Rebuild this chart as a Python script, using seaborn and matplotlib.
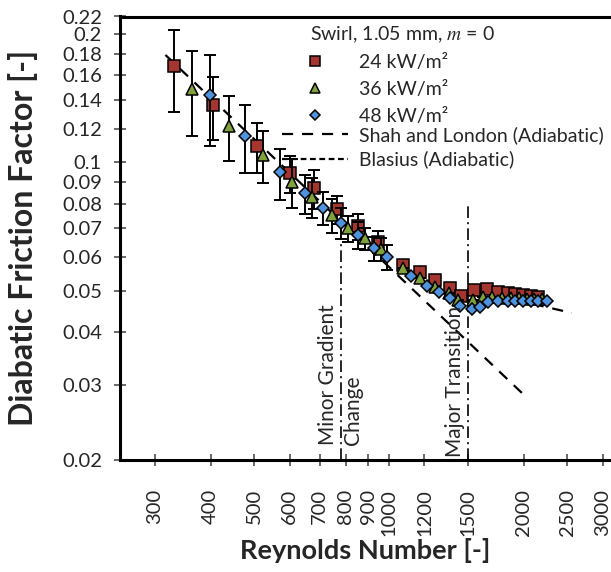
import numpy as np
import pandas as pd
import seaborn as sns
import matplotlib.pyplot as plt
from matplotlib.lines import Line2D

# values
re_24 = [332, 404, 508, 600, 679, 765, 851, 943, 1074, 1174, 1268, 1365, 1449,
         1549, 1659, 1755, 1839, 1912, 1990, 2073, 2155]
f_24 = [0.168, 0.136, 0.109, 0.0942, 0.0869, 0.0775, 0.0708, 0.0651, 0.0574,
        0.0553, 0.0529, 0.0506, 0.0485, 0.0501, 0.0503, 0.0497, 0.0493, 0.0490,
        0.0488, 0.0486, 0.0484]
err_24 = [0.037, 0.023, 0.0145, 0.0095, 0.009, 0.006, 0.005, 0.004, 0, 0, 0, 0, 0,
          0, 0, 0, 0, 0, 0, 0, 0]

re_36 = [364, 440, 524, 608, 672, 746, 812, 885, 959, 1074, 1174, 1268, 1358,
         1429, 1543, 1620, 1700, 1790, 1870, 1950, 2030, 2110, 2190]
f_36 = [0.149, 0.122, 0.104, 0.090, 0.083, 0.0752, 0.070, 0.0663, 0.0625, 0.0565,
        0.0534, 0.051, 0.0494, 0.0475, 0.0475, 0.0484, 0.0482, 0.0481, 0.0480,
        0.0479, 0.0478, 0.0478, 0.0477]
err_36 = [0.034, 0.0215, 0.0145, 0.012, 0.009, 0.007, 0.005, 0.004, 0.004, 0, 0,
          0, 0, 0, 0, 0, 0, 0, 0, 0, 0, 0, 0]

re_48 = [399, 476, 572, 650, 711, 782, 851, 924, 992, 1119, 1215, 1290, 1365,
         1442, 1530, 1598, 1667, 1755, 1839, 1912, 1990, 2073, 2155, 2250]
f_48 = [0.144, 0.1155, 0.0947, 0.0846, 0.0782, 0.0721, 0.0675, 0.0628, 0.0598,
        0.0541, 0.0512, 0.0497, 0.0479, 0.046, 0.0452, 0.0458, 0.0471, 0.0472,
        0.0472, 0.0472, 0.0472, 0.0473, 0.0473, 0.0473]
err_48 = [0.035, 0.021, 0.013, 0.009, 0.007, 0.006, 0.005, 0.004, 0.004, 0, 0, 0,
          0, 0, 0, 0, 0, 0, 0, 0, 0, 0, 0, 0]

shah_re = [317, 1990]
shah_f = [0.1787, 0.0286]
blasius_re = [1550, 2560]
blasius_f = [0.0500, 0.0443]

minor_re = 780
minor_top = 0.0685
major_re = 1500
major_top = 0.0802

x_ticks = [300, 400, 500, 600, 700, 800, 900, 1000, 1200, 1500, 2000, 2500, 3000]
y_ticks = [0.02, 0.03, 0.04, 0.05, 0.06, 0.07, 0.08, 0.09, 0.1, 0.12, 0.14,
           0.16, 0.18, 0.2, 0.22]

labels = ["24 kW/m²", "36 kW/m²", "48 kW/m²"]
colors = {"24 kW/m²": "#A5362F", "36 kW/m²": "#80A23A", "48 kW/m²": "#4F93DE"}
markers = {"24 kW/m²": "s", "36 kW/m²": "^", "48 kW/m²": "D"}
sizes = {"24 kW/m²": 8.8, "36 kW/m²": 9.3, "48 kW/m²": 6.4}

df = pd.concat([
    pd.DataFrame({"Re": re_24, "f": f_24, "err": err_24, "q": labels[0]}),
    pd.DataFrame({"Re": re_36, "f": f_36, "err": err_36, "q": labels[1]}),
    pd.DataFrame({"Re": re_48, "f": f_48, "err": err_48, "q": labels[2]}),
], ignore_index=True)

sns.set_style("ticks")
plt.rcParams["font.family"] = ["Lato", "DejaVu Sans"]
plt.rcParams["mathtext.fontset"] = "stix"

fig = plt.figure(figsize=(6.11, 5.72), dpi=100)
ax = fig.add_axes([120 / 611, 1 - 460 / 572, 491 / 611, 443.5 / 572])
ax.set_xscale("log")
ax.set_yscale("log")

# correlations
ax.plot(shah_re, shah_f, color="black", lw=1.6, ls=(0, (5, 4)), zorder=1)
ax.plot(blasius_re, blasius_f, color="black", lw=1.6, ls=(0, (5, 4)), zorder=1)

# transition markers
dashdot = (0, (7, 2.5, 1.2, 2.5))
ax.plot([minor_re, minor_re], [0.02, minor_top], color="black", lw=1.2, ls=dashdot, zorder=1)
ax.plot([major_re, major_re], [0.02, major_top], color="black", lw=1.2, ls=dashdot, zorder=1)

# data series
for i, q in enumerate(labels):
    sub = df[df["q"] == q]
    ax.errorbar(sub["Re"], sub["f"], yerr=sub["err"], fmt="none", ecolor="black",
                elinewidth=1.4, capsize=4.5, capthick=1.4, zorder=2 + i * 0.1)
    sns.lineplot(data=sub, x="Re", y="f", ax=ax, color=colors[q], marker=markers[q],
                 markersize=sizes[q], markeredgecolor="black", markeredgewidth=1.1,
                 linestyle="none", zorder=2.05 + i * 0.1, legend=False)

ax.set_xlim(251, 3130)
ax.set_ylim(0.02, 0.22)
ax.set_xticks(x_ticks)
ax.set_xticklabels([str(t) for t in x_ticks], rotation=90, va="top", ha="center")
ax.set_yticks(y_ticks)
ax.set_yticklabels([f"{t:g}" for t in y_ticks])
ax.minorticks_off()
ax.tick_params(axis="both", which="major", direction="inout", length=8, width=1.1,
               color="#404040", labelsize=14.5, bottom=True, left=True)
ax.tick_params(axis="y", pad=9)
ax.tick_params(axis="x", pad=17)

for side in ["left", "bottom", "top"]:
    ax.spines[side].set_linewidth(2.2)
    ax.spines[side].set_color("black")
ax.spines["right"].set_visible(False)

ax.set_xlabel("Reynolds Number [-]", fontsize=19.5, fontweight="bold")
ax.set_ylabel("Diabatic Friction Factor [-]", fontsize=23, fontweight="bold", va="center")
ax.xaxis.set_label_coords(0.5, -0.177)
ax.yaxis.set_label_coords(-0.197, 0.5)

# annotations
ax.text(minor_re, 0.02168, "Minor Gradient\nChange", rotation=90, linespacing=1.3,
        ha="center", va="bottom", fontsize=15, multialignment="left")
ax.text(major_re * 0.985, 0.0203, "Major Transition", rotation=90,
        ha="right", va="bottom", fontsize=15)

# legends: heat flux markers and correlation lines
marker_handles = [
    Line2D([], [], color=colors[labels[0]], marker="s", ls="none", markersize=7,
           markeredgecolor="black", markeredgewidth=1.1),
    Line2D([], [], color=colors[labels[1]], marker="^", ls="none", markersize=7.5,
           markeredgecolor="black", markeredgewidth=1.1),
    Line2D([], [], color=colors[labels[2]], marker="D", ls="none", markersize=5.2,
           markeredgecolor="black", markeredgewidth=1.1),
]
line_handles = [
    Line2D([], [], color="black", lw=1.6, ls=(0, (5, 4))),
    Line2D([], [], color="black", lw=1.6, ls=(0, (2.6, 1.6))),
]
leg_opts = dict(loc="upper left", bbox_transform=fig.transFigure, frameon=False,
                fontsize=14, handlelength=3.4, handletextpad=0.55, borderpad=0,
                borderaxespad=0)
leg1 = ax.legend(marker_handles, labels, bbox_to_anchor=(282 / 611, 1 - 54 / 572),
                 labelspacing=0.52, **leg_opts)
leg1.set_zorder(1.5)
ax.add_artist(leg1)
leg2 = ax.legend(line_handles, ["Shah and London (Adiabatic)", "Blasius (Adiabatic)"],
                 bbox_to_anchor=(282 / 611, 1 - 126 / 572), labelspacing=0.34, **leg_opts)
leg2.set_zorder(1.5)
fig.text(310 / 611, 1 - 35 / 572, "Swirl, 1.05 mm, $m$ = 0", fontsize=14,
         ha="left", va="center")

fig.savefig("out.png", dpi=100)
